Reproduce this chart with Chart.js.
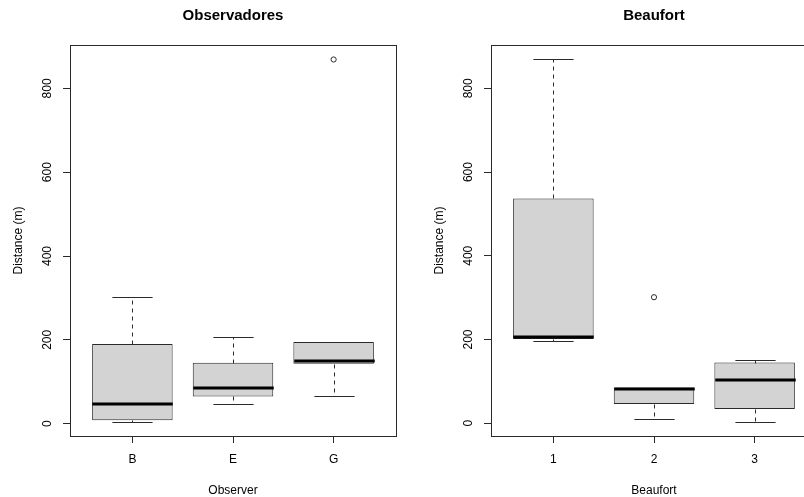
<!DOCTYPE html>
<html>
<head>
<meta charset="utf-8">
<script src="https://cdn.jsdelivr.net/npm/chart.js@4/dist/chart.umd.min.js"></script>
<style>
  html, body { margin: 0; padding: 0; background: #fff; overflow: hidden; }
  #wrap { position: relative; width: 804px; height: 497px; overflow: hidden; background: #fff; }
  .panel { position: absolute; top: 0; width: 421px; height: 497px; }
</style>
</head>
<body>
<div id="wrap">
  <div class="panel" style="left:0"><canvas id="c1" width="421" height="497"></canvas></div>
  <div class="panel" style="left:421px"><canvas id="c2" width="421" height="497"></canvas></div>
</div>
<script>
// ---- Data ----
const yTicks = [0, 200, 400, 600, 800];

const observers   = ['B', 'E', 'G'];
const obsLow      = [5, 46, 65];
const obsQ1       = [8, 65, 143];
const obsMedian   = [46, 85, 149];
const obsQ3       = [190, 145, 195];
const obsHigh     = [301, 207, 195];
const obsOutliers = [[], [], [869]];

const beaufort    = ['1', '2', '3'];
const bfLow       = [196, 10, 4];
const bfQ1        = [201, 46, 34];
const bfMedian    = [207, 81, 104];
const bfQ3        = [537, 85, 145];
const bfHigh      = [869, 85, 150];
const bfOutliers  = [[], [301], []];

const FONT = "'Liberation Sans', Arial, sans-serif";
const LINE = '#2a2a2a';

function makeChart(id, title, xTitle, cats, low, q1, med, q3, high, outl) {
  const allVals = low.concat(high, ...outl);
  const dMin = Math.min(...allVals), dMax = Math.max(...allVals);
  const ext = (dMax - dMin) * 0.04;

  const boxPlugin = {
    id: 'boxExtras',
    afterDatasetsDraw(chart) {
      const ctx = chart.ctx, x = chart.scales.x, y = chart.scales.y;
      ctx.save();
      cats.forEach((c, i) => {
        const cx = Math.round(x.getPixelForValue(i + 1)) + 0.5;
        const half = x.getPixelForValue(i + 1 + 0.4) - x.getPixelForValue(i + 1);
        const capHalf = half / 2;
        const py = v => Math.round(y.getPixelForValue(v)) + 0.5;
        // whiskers (dashed)
        ctx.strokeStyle = LINE; ctx.lineWidth = 1; ctx.setLineDash([4, 4]);
        ctx.beginPath();
        ctx.moveTo(cx, py(q3[i])); ctx.lineTo(cx, py(high[i]));
        ctx.moveTo(cx, py(q1[i])); ctx.lineTo(cx, py(low[i]));
        ctx.stroke();
        // caps
        ctx.setLineDash([]);
        ctx.beginPath();
        ctx.moveTo(cx - capHalf, py(high[i])); ctx.lineTo(cx + capHalf, py(high[i]));
        ctx.moveTo(cx - capHalf, py(low[i])); ctx.lineTo(cx + capHalf, py(low[i]));
        ctx.stroke();
        // median
        ctx.strokeStyle = '#000'; ctx.lineWidth = 3;
        const my = Math.round(y.getPixelForValue(med[i]));
        ctx.beginPath();
        ctx.moveTo(cx - half, my); ctx.lineTo(cx + half, my);
        ctx.stroke();
      });
      // plot frame
      const a = chart.chartArea;
      ctx.strokeStyle = LINE; ctx.lineWidth = 1;
      ctx.strokeRect(Math.round(a.left) + 0.5, Math.round(a.top) + 0.5,
                     Math.round(a.right - a.left), Math.round(a.bottom - a.top));
      // rotated y tick labels (R style, las = 0)
      ctx.fillStyle = '#000';
      ctx.font = '12px ' + FONT;
      ctx.textAlign = 'center'; ctx.textBaseline = 'middle';
      y.ticks.forEach(t => {
        ctx.save();
        ctx.translate(a.left - 22, y.getPixelForValue(t.value));
        ctx.rotate(-Math.PI / 2);
        ctx.fillText(String(t.value), 0, 0);
        ctx.restore();
      });
      ctx.restore();
    }
  };

  const outPts = [];
  outl.forEach((arr, i) => arr.forEach(v => outPts.push({ x: i + 1, y: v })));

  return new Chart(document.getElementById(id), {
    type: 'bar',
    data: {
      datasets: [
        {
          type: 'bar',
          data: cats.map((c, i) => ({ x: i + 1, y: [q1[i], q3[i]] })),
          backgroundColor: '#d3d3d3',
          borderColor: LINE,
          borderWidth: 1,
          borderSkipped: false,
          barPercentage: 1,
          categoryPercentage: 0.8
        },
        {
          type: 'scatter',
          data: outPts,
          pointStyle: 'circle',
          pointRadius: 2.6,
          pointBorderWidth: 1,
          pointBorderColor: LINE,
          pointBackgroundColor: 'rgba(0,0,0,0)'
        }
      ]
    },
    options: {
      responsive: false,
      animation: false,
      events: [],
      layout: { padding: { top: 0, right: 25, bottom: 0, left: 0 } },
      plugins: {
        legend: { display: false },
        tooltip: { enabled: false },
        title: {
          display: true,
          text: title,
          fullSize: false,
          color: '#000',
          font: { family: FONT, size: 15, weight: 'bold', lineHeight: 1.2 },
          padding: { top: 7, bottom: 20 }
        }
      },
      scales: {
        x: {
          type: 'linear',
          offset: false,
          min: 0.38, max: 3.62,
          afterBuildTicks: s => { s.ticks = cats.map((c, i) => ({ value: i + 1 })); },
          afterFit: s => { s.height = 61; },
          ticks: {
            callback: v => cats[v - 1],
            color: '#000',
            font: { family: FONT, size: 12 },
            padding: 9,
            maxRotation: 0,
            autoSkip: false
          },
          grid: { display: true, offset: false, drawOnChartArea: false, drawTicks: true, tickLength: 7, tickColor: LINE },
          border: { display: true, color: LINE },
          title: {
            display: true, text: xTitle, color: '#000',
            font: { family: FONT, size: 12, lineHeight: 1.2 },
            padding: { top: 0, bottom: -1 }
          }
        },
        y: {
          type: 'linear',
          min: dMin - ext, max: dMax + ext,
          afterBuildTicks: s => { s.ticks = yTicks.map(v => ({ value: v })); },
          afterFit: s => { s.width = 70; },
          ticks: { display: false },
          grid: { display: true, drawOnChartArea: false, drawTicks: true, tickLength: 7, tickColor: LINE },
          border: { display: true, color: LINE },
          title: {
            display: true, text: 'Distance (m)', color: '#000',
            font: { family: FONT, size: 12, lineHeight: 1.2 },
            padding: { top: 11.5, bottom: 0 }
          }
        }
      }
    },
    plugins: [boxPlugin]
  });
}

makeChart('c1', 'Observadores', 'Observer', observers, obsLow, obsQ1, obsMedian, obsQ3, obsHigh, obsOutliers);
makeChart('c2', 'Beaufort', 'Beaufort', beaufort, bfLow, bfQ1, bfMedian, bfQ3, bfHigh, bfOutliers);
</script>
</body>
</html>
